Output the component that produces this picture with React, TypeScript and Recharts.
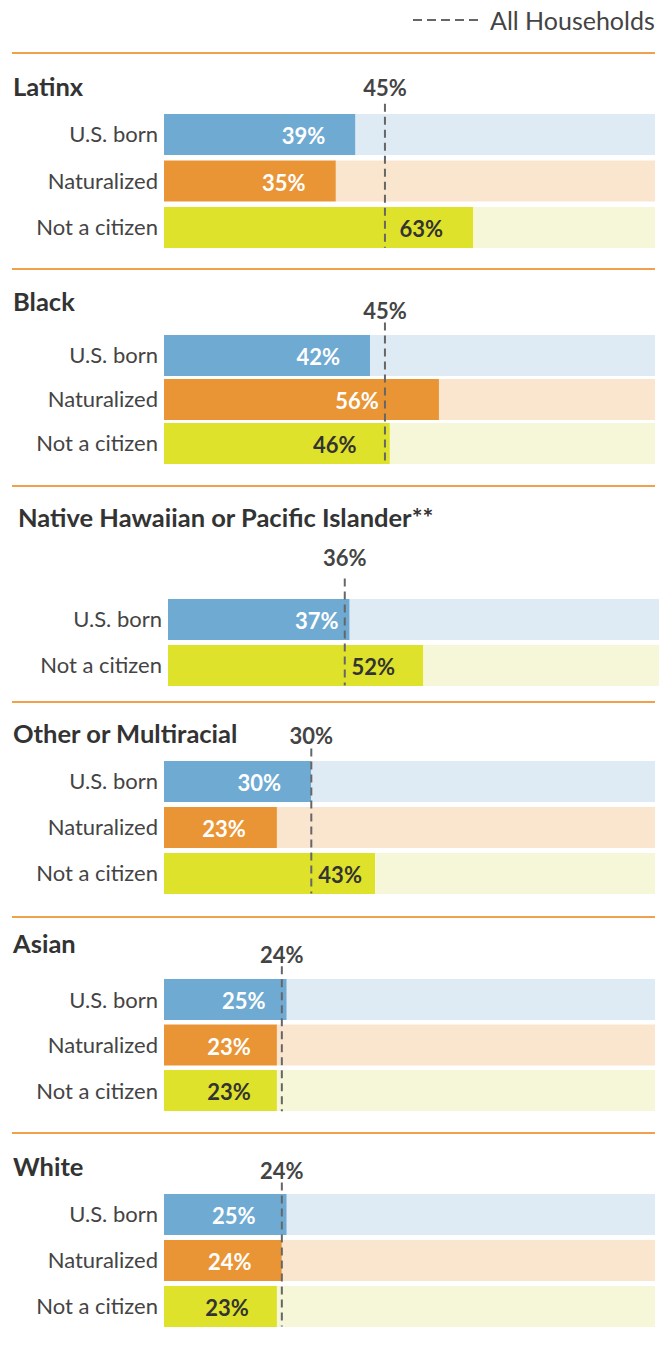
import React from 'react';
import { BarChart, Bar, XAxis, YAxis, Cell, ReferenceLine, LabelList } from 'recharts';

// Share of households, by race/ethnicity and citizenship status
const groups = ['Latinx', 'Black', 'Native Hawaiian or Pacific Islander**', 'Other or Multiracial', 'Asian', 'White'];
const rowLabels = [
  ['U.S. born', 'Naturalized', 'Not a citizen'],
  ['U.S. born', 'Naturalized', 'Not a citizen'],
  ['U.S. born', 'Not a citizen'],
  ['U.S. born', 'Naturalized', 'Not a citizen'],
  ['U.S. born', 'Naturalized', 'Not a citizen'],
  ['U.S. born', 'Naturalized', 'Not a citizen'],
];
const values = [
  [39, 35, 63],
  [42, 56, 46],
  [37, 52],
  [30, 23, 43],
  [25, 23, 23],
  [25, 24, 23],
];
const allHouseholds = [45, 45, 36, 30, 24, 24];

const FONT = 'Lato, "Open Sans", sans-serif';
const COLORS: Record<string, [string, string, string]> = {
  'U.S. born': ['#6FAAD3', '#DEEAF4', '#ffffff'],
  'Naturalized': ['#E99535', '#FAE5CF', '#ffffff'],
  'Not a citizen': ['#DFE22A', '#F5F7D8', '#333333'],
};

// page layout of each panel (pixels)
const layout = [
  { sep: 53, titleY: 86, titleX: 13, barsTop: 114, pitch: 46.5, left: 164, labelGap: 26, ext: 10 },
  { sep: 269, titleY: 301, titleX: 13, barsTop: 334, pitch: 44, left: 164, labelGap: 24, ext: 12 },
  { sep: 486, titleY: 517, titleX: 18, barsTop: 598, pitch: 46, left: 168, labelGap: 41, ext: 20 },
  { sep: 702, titleY: 733, titleX: 13, barsTop: 760, pitch: 46, left: 164, labelGap: 25, ext: 12 },
  { sep: 917, titleY: 943, titleX: 13, barsTop: 979, pitch: 45.5, left: 164, labelGap: 25, ext: 13 },
  { sep: 1133, titleY: 1166, titleX: 13, barsTop: 1193, pitch: 46, left: 164, labelGap: 23, ext: 11 },
];
// where each value label sits, measured back from the bar's end (px)
const labelDx = [
  [-52, -52, -52],
  [-52, -82, -55],
  [-33, -50],
  [-52, -53, -35],
  [-43, -48, -48],
  [-53, -52, -50],
];

const BAR = 41;
const PLOT_W = 491;
const TOP = 60;

function Panel({ idx }: { idx: number }) {
  const L = layout[idx];
  const data = rowLabels[idx].map((name, i) => ({ name, value: values[idx][i], rest: 100 - values[idx][i] }));
  const n = data.length;
  const plotTop = L.barsTop - (L.pitch - BAR) / 2;
  const height = TOP + n * L.pitch + 4;
  const refVal = allHouseholds[idx];

  const refShape = (p: any) => {
    const yTop = Math.min(p.y1, p.y2) + (L.pitch - BAR) / 2;
    const yBot = Math.max(p.y1, p.y2) - (L.pitch - BAR) / 2;
    return (
      <g>
        <line x1={p.x1} x2={p.x2} y1={yTop - L.ext} y2={yBot} stroke="#666" strokeWidth={2} strokeDasharray="8 5" />
        <text x={p.x1} y={yTop - L.labelGap} textAnchor="middle" dominantBaseline="central"
          fontFamily={FONT} fontSize={22} fontWeight={700} fill="#444">{refVal}%</text>
      </g>
    );
  };

  const valueLabel = (p: any) => {
    const row = data[p.index];
    return (
      <text x={p.x + p.width + labelDx[idx][p.index]} y={p.y + p.height / 2 + 1} textAnchor="middle" dominantBaseline="central"
        fontFamily={FONT} fontSize={22} fontWeight={700} fill={COLORS[row.name][2]}>{row.value}%</text>
    );
  };

  return (
    <div style={{ position: 'absolute', left: 0, top: plotTop - TOP }}>
      <BarChart width={666} height={height} data={data} layout="vertical"
        margin={{ top: TOP, right: 666 - L.left - PLOT_W, bottom: 4, left: 0 }}>
        <XAxis type="number" domain={[0, 100]} hide />
        <YAxis type="category" dataKey="name" width={L.left} axisLine={false} tickLine={false}
          tickSize={4} tickMargin={2}
          tick={{ fontFamily: FONT, fontSize: 22, fill: '#444' }} />
        <Bar dataKey="value" stackId="a" barSize={BAR} isAnimationActive={false}>
          {data.map((d) => <Cell key={d.name} fill={COLORS[d.name][0]} />)}
          <LabelList dataKey="value" content={valueLabel} />
        </Bar>
        <Bar dataKey="rest" stackId="a" barSize={BAR} isAnimationActive={false}>
          {data.map((d) => <Cell key={d.name} fill={COLORS[d.name][1]} />)}
        </Bar>
        <ReferenceLine x={refVal} shape={refShape} />
      </BarChart>
    </div>
  );
}

export default function App() {
  return (
    <div style={{ position: 'absolute', left: 0, top: 0, width: 666, height: 1345, background: '#fff', fontFamily: FONT }}>
      <svg width={666} height={40} style={{ position: 'absolute', left: 0, top: 0 }}>
        <line x1={413} x2={478} y1={20} y2={20} stroke="#666" strokeWidth={2} strokeDasharray="9 5" />
        <text x={490} y={20} dominantBaseline="central" fontFamily={FONT} fontSize={25} fill="#444">All Households</text>
      </svg>
      {groups.map((g, i) => (
        <React.Fragment key={g}>
          <div style={{ position: 'absolute', left: 12, top: layout[i].sep - 1, width: 643, height: 2, background: '#EFA14C' }} />
          <div style={{ position: 'absolute', left: layout[i].titleX, top: layout[i].titleY - 15, lineHeight: '30px',
            fontSize: 25.5, fontWeight: 700, color: '#333', whiteSpace: 'nowrap' }}>{g}</div>
          <Panel idx={i} />
        </React.Fragment>
      ))}
    </div>
  );
}
